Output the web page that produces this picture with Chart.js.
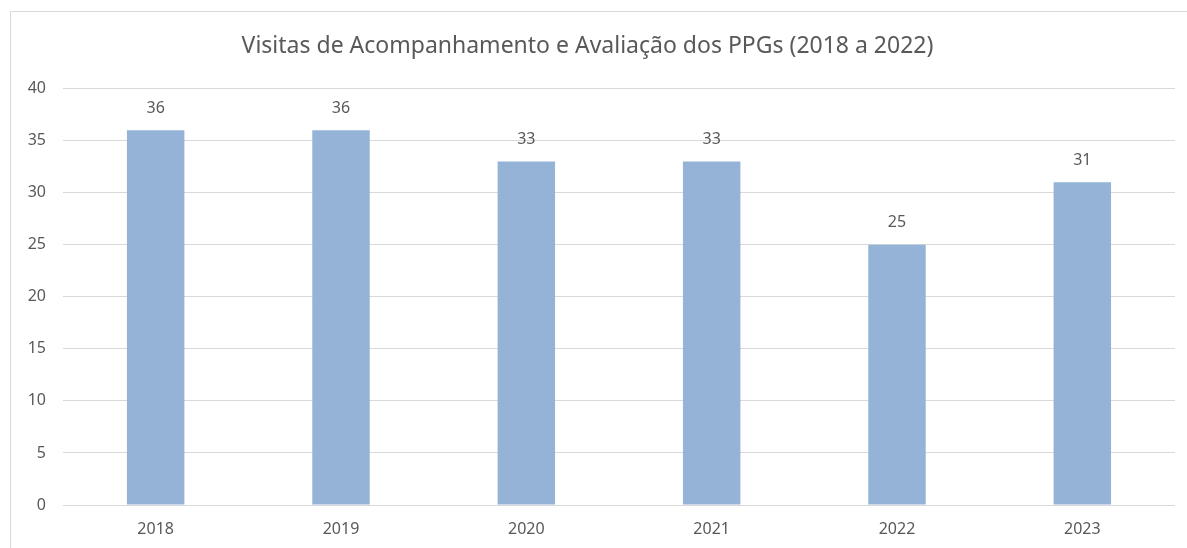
<!DOCTYPE html>
<html>
<head>
<meta charset="utf-8">
<script src="https://cdn.jsdelivr.net/npm/chart.js@4/dist/chart.umd.min.js"></script>
<style>
  html, body { margin: 0; padding: 0; background: #fff; overflow: hidden; }
  #frame { position: absolute; left: 10px; top: 11px; width: 1300px; height: 700px; border: 1px solid #d9d9d9; }
  #visitChart { position: absolute; left: 0; top: 0; }
</style>
</head>
<body>
<div id="frame"></div>
<canvas id="visitChart" width="1187" height="548"></canvas>
<script>
const years = ["2018", "2019", "2020", "2021", "2022", "2023"];
const visits = [36, 36, 33, 33, 25, 31];
const yTicks = [0, 5, 10, 15, 20, 25, 30, 35, 40];

const FONT = "'Noto Sans', 'Open Sans', sans-serif";
const TEXT = "#595959";

// values drawn above each bar
const barValues = {
  id: "barValues",
  afterDatasetsDraw(chart) {
    const ctx = chart.ctx;
    const meta = chart.getDatasetMeta(0);
    ctx.save();
    ctx.font = "16px " + FONT;
    ctx.fillStyle = TEXT;
    ctx.textAlign = "center";
    ctx.textBaseline = "middle";
    meta.data.forEach((bar, i) => {
      ctx.fillText(String(visits[i]), bar.x, bar.y - 22);
    });
    ctx.restore();
  },
};

const canvas = document.getElementById("visitChart");
new Chart(canvas.getContext("2d"), {
  type: "bar",
  data: {
    labels: years,
    datasets: [{
      data: visits,
      backgroundColor: "#95b3d7",
      borderWidth: 0,
      categoryPercentage: 1,
      barPercentage: 0.31,
    }],
  },
  options: {
    responsive: false,
    animation: false,
    layout: { padding: { left: 0, right: 12, top: 0, bottom: 0 } },
    plugins: {
      legend: { display: false },
      tooltip: { enabled: false },
      title: {
        display: true,
        text: "Visitas de Acompanhamento e Avaliação dos PPGs (2018 a 2022)",
        color: TEXT,
        font: { family: FONT, size: 23, weight: "normal" },
        padding: { top: 33, bottom: 28 },
      },
    },
    scales: {
      x: {
        grid: { display: false, drawTicks: false },
        border: { display: false },
        ticks: { color: TEXT, font: { family: FONT, size: 16 }, padding: 15 },
        afterFit(scale) { scale.height = 43; },
      },
      y: {
        min: 0,
        max: 40,
        afterBuildTicks(scale) { scale.ticks = yTicks.map((v) => ({ value: v })); },
        grid: { color: "#d9d9d9", lineWidth: 1, drawTicks: false },
        border: { display: false },
        ticks: { color: TEXT, font: { family: FONT, size: 16 }, padding: 17 },
        afterFit(scale) { scale.width = 63; },
      },
    },
  },
  plugins: [barValues],
});
</script>
</body>
</html>
